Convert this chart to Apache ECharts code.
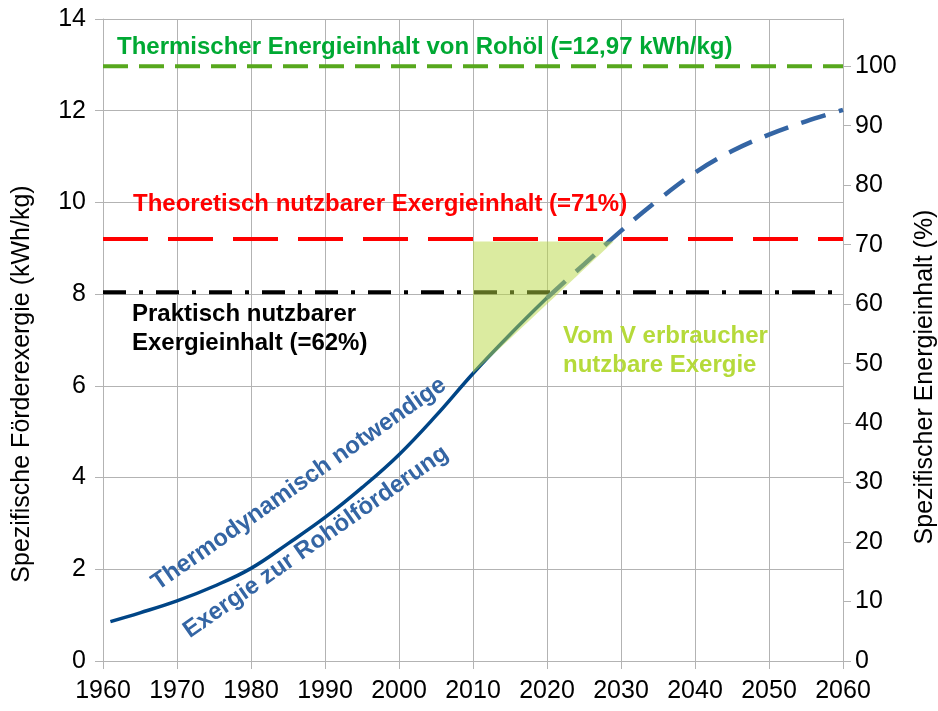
<!DOCTYPE html>
<html>
<head>
<meta charset="utf-8">
<script src="https://cdn.jsdelivr.net/npm/echarts@6/dist/echarts.min.js"></script>
<style>
  html, body { margin: 0; background: #fff; }
  #chart { width: 938px; height: 711px; }
</style>
</head>
<body>
<div id="chart"></div>
<script>
// Förderexergie: bisher (durchgezogen) und Prognose (gestrichelt)
const jahreIst = [1961, 1965, 1970, 1975, 1980, 1985, 1990, 1995, 2000, 2005, 2010, 2015, 2020];
const exergieIst = [0.86, 1.05, 1.31, 1.63, 2.02, 2.56, 3.13, 3.78, 4.5, 5.35, 6.27, 7.12, 7.92];
const jahrePrognose = [2020, 2025, 2030, 2035, 2040, 2045, 2050, 2055, 2060];
const exergiePrognose = [7.92, 8.65, 9.38, 10.05, 10.65, 11.12, 11.48, 11.77, 12.02];

// Referenzlinien (kWh/kg)
const energieinhalt = 12.97;
const theoretischNutzbar = 9.2;   // 71 %
const praktischNutzbar = 8.04;    // 62 %

// Dreieck "vom Verbraucher nutzbare Exergie"
const dreieckJahre = [2010, 2010, 2029];
const dreieckWerte = [6.27, 9.15, 9.15];

// Tick-Beschriftungen rechte Achse (%)
const prozentTicks = [0, 10, 20, 30, 40, 50, 60, 70, 80, 90, 100];

const grau = '#b3b3b3';
const textFont = '"Liberation Sans", Arial, sans-serif';

const myChart = echarts.init(document.getElementById('chart'));

function referenzLinie(wert, farbe, breite, strich) {
  return {
    type: 'line',
    data: [[1960, wert], [2060, wert]],
    symbol: 'none',
    silent: true,
    z: 2,
    lineStyle: { color: farbe, width: breite, type: strich }
  };
}

function textElement(text, x, y, farbe, font, extra) {
  return Object.assign({
    type: 'text',
    x: x,
    y: y,
    z: 100,
    style: { text: text, fill: farbe, font: font, verticalAlign: 'middle' }
  }, extra || {});
}

const options = {
  animation: false,
  grid: { left: 103, right: 95, top: 19, bottom: 50 },
  xAxis: {
    type: 'value',
    min: 1960,
    max: 2060,
    interval: 10,
    axisLine: { show: true, lineStyle: { color: grau, width: 1 } },
    axisTick: { show: true, length: 8, lineStyle: { color: grau } },
    splitLine: { show: true, lineStyle: { color: grau, width: 1 } },
    axisLabel: {
      margin: 18,
      color: '#000',
      fontFamily: textFont,
      fontSize: 25,
      formatter: (v) => String(v)
    }
  },
  yAxis: [
    {
      type: 'value',
      min: 0,
      max: 14,
      interval: 2,
      axisLine: { show: true, lineStyle: { color: grau, width: 1 } },
      axisTick: { show: true, length: 8, lineStyle: { color: grau } },
      splitLine: { show: true, lineStyle: { color: grau, width: 1 } },
      axisLabel: { margin: 17, color: '#000', fontFamily: textFont, fontSize: 25 }
    },
    {
      type: 'value',
      position: 'right',
      min: 0,
      max: 14 / energieinhalt * 100,
      axisLine: { show: true, lineStyle: { color: grau, width: 1 } },
      axisTick: { show: true, length: 8, lineStyle: { color: grau }, customValues: prozentTicks },
      splitLine: { show: false },
      axisLabel: {
        margin: 12,
        color: '#000',
        fontFamily: textFont,
        fontSize: 25,
        customValues: prozentTicks,
        formatter: (v) => String(Math.round(v))
      }
    }
  ],
  series: [
    referenzLinie(energieinhalt, '#57a81d', 4, [25, 11]),
    referenzLinie(theoretischNutzbar, '#ff0000', 4, [45, 20]),
    referenzLinie(praktischNutzbar, '#000000', 4, [23, 13, 4, 13]),
    {
      type: 'line',
      data: jahreIst.map((j, i) => [j, exergieIst[i]]),
      smooth: 0.4,
      symbol: 'none',
      z: 3,
      lineStyle: { color: '#004586', width: 3.5 }
    },
    {
      type: 'line',
      data: jahrePrognose.map((j, i) => [j, exergiePrognose[i]]),
      smooth: 0.4,
      symbol: 'none',
      z: 3,
      lineStyle: { color: '#3465a4', width: 4.5, type: [25, 14] }
    },
    {
      type: 'custom',
      z: 5,
      data: [[dreieckJahre[0], dreieckWerte[0]]],
      renderItem: (params, api) => ({
        type: 'polygon',
        shape: { points: dreieckJahre.map((j, i) => api.coord([j, dreieckWerte[i]])) },
        style: { fill: 'rgba(184,216,65,0.5)' }
      })
    }
  ],
  graphic: [
    textElement('Thermischer Energieinhalt von Rohöl (=12,97 kWh/kg)', 117, 47.5, '#00a933', 'bold 24px ' + textFont),
    textElement('Theoretisch nutzbarer Exergieinhalt (=71%)', 133, 204.5, '#ff0000', 'bold 24px ' + textFont),
    textElement('Praktisch nutzbarer', 132, 314.5, '#000', 'bold 24px ' + textFont),
    textElement('Exergieinhalt (=62%)', 132, 343.5, '#000', 'bold 24px ' + textFont),
    textElement('Vom V erbraucher', 563, 336, '#b5da3a', 'bold 24px ' + textFont),
    textElement('nutzbare Exergie', 563, 365, '#b5da3a', 'bold 24px ' + textFont),
    textElement('Thermodynamisch notwendige', 299, 484, '#3465a4', 'bold 24px ' + textFont,
      { rotation: 35 * Math.PI / 180 }),
    textElement('Exergie zur Rohölförderung', 316, 542, '#3465a4', 'bold 24px ' + textFont,
      { rotation: 35 * Math.PI / 180 }),
    textElement('Spezifische Förderexergie (kWh/kg)', 22, 384, '#000', '25px ' + textFont,
      { rotation: Math.PI / 2 }),
    textElement('Spezifischer Energieinhalt (%)', 925, 377, '#000', '25px ' + textFont,
      { rotation: Math.PI / 2 })
  ]
};

// die zentrierten Texte brauchen align center
options.graphic.slice(6).forEach((g) => { g.style.align = 'center'; });

myChart.setOption(options);
</script>
</body>
</html>
